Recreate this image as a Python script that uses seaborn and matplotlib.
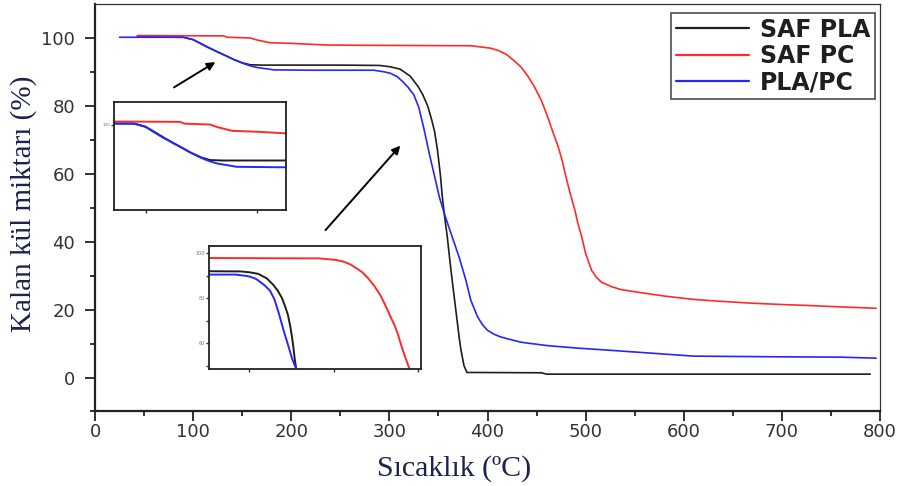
import numpy as np
import pandas as pd
import matplotlib
matplotlib.use("Agg")
import matplotlib.pyplot as plt
import seaborn as sns

# ---------------- data ----------------
series_names = ["SAF PLA", "SAF PC", "PLA/PC"]
series_colors = ["#1e1e1e", "#ff2a2a", "#2626ff"]

pla_T = [43, 90, 100, 107, 115, 124, 133, 141, 150, 158, 170, 200, 250, 290, 301,
         311, 321, 329, 334, 339, 343, 346, 349, 352, 354, 356, 359, 362, 364, 367,
         369, 371, 373, 376, 379, 455, 460, 790]
pla_W = [100.3, 100.2, 99.5, 98.5, 97.3, 96.0, 94.8, 93.7, 92.7, 92.1, 92.0, 92.0, 92.0,
         91.9, 91.5, 90.8, 88.8, 85.8, 83.3, 80.0, 76.0, 72.5, 67.0, 59.5, 53.0, 48.0,
         41.4, 33.5, 28.6, 21.5, 16.8, 12.0, 8.0, 3.5, 1.5, 1.4, 1.0, 1.0]

pc_T = [43, 131, 135, 158, 165, 178, 200, 237, 300, 383, 403, 412, 420, 427, 434, 441,
        448, 455, 461, 467, 472, 476, 480, 484, 489, 492, 496, 500, 506, 511, 516, 526,
        536, 556, 580, 610, 640, 669, 700, 728, 760, 796]
pc_W = [100.7, 100.6, 100.2, 100.0, 99.4, 98.6, 98.4, 97.9, 97.8, 97.7, 97.0, 96.2, 95.0,
        93.3, 91.5, 88.8, 85.5, 81.5, 77.0, 72.0, 68.0, 64.0, 59.0, 54.5, 49.3, 45.5,
        41.4, 36.5, 31.6, 29.5, 28.1, 26.8, 25.9, 25.0, 24.0, 23.0, 22.4, 21.9, 21.5,
        21.2, 20.8, 20.4]

blend_T = [25, 90, 100, 107, 115, 124, 133, 141, 150, 158, 165, 175, 182, 220, 284, 295,
           301, 308, 313, 319, 325, 330, 335, 341, 347, 351, 356, 360, 364, 371, 378, 383,
           390, 395, 400, 407, 414, 434, 461, 490, 516, 551, 610, 700, 760, 796]
blend_W = [100.2, 100.2, 99.5, 98.4, 97.2, 96.0, 94.8, 93.7, 92.6, 91.8, 91.3, 90.9, 90.6,
           90.5, 90.5, 90.0, 89.6, 88.6, 87.3, 85.5, 83.2, 79.5, 73.5, 65.5, 58.1, 53.0,
           48.3, 44.8, 41.4, 35.5, 28.6, 22.7, 17.8, 15.5, 13.9, 12.7, 11.9, 10.4, 9.4,
           8.7, 8.2, 7.5, 6.3, 6.1, 6.0, 5.7]

x_ticks = [0, 100, 200, 300, 400, 500, 600, 700, 800]
y_ticks = [0, 20, 40, 60, 80, 100]
y_tick_labels = ["0", "20", "40", "60", "80", "100"]

x_label = "Sıcaklık (ºC)"
y_label = "Kalan kül miktarı (%)"

df = pd.concat([
    pd.DataFrame({"T": pla_T, "W": pla_W, "Seri": series_names[0]}),
    pd.DataFrame({"T": pc_T, "W": pc_W, "Seri": series_names[1]}),
    pd.DataFrame({"T": blend_T, "W": blend_W, "Seri": series_names[2]}),
], ignore_index=True)
palette = dict(zip(series_names, series_colors))

# ---------------- style ----------------
sns.set_style("white")
plt.rcParams["font.family"] = ["DejaVu Sans"]

fig = plt.figure(figsize=(9.05, 4.86), dpi=100)
ax = fig.add_axes([0.105, 0.1533, 0.8674, 0.8385])

sns.lineplot(data=df, x="T", y="W", hue="Seri", hue_order=series_names, palette=palette,
             estimator=None, sort=False, linewidth=1.2, ax=ax)

ax.set_xlim(0, 800)
ax.set_ylim(-10, 110)
ax.set_xticks(x_ticks)
ax.set_xticks(np.arange(50, 800, 100), minor=True)
ax.set_yticks(y_ticks)
ax.set_yticklabels(y_tick_labels)
ax.set_yticks(np.arange(-10, 110, 20), minor=True)
ax.tick_params(which="major", direction="out", length=7.2, width=1.3, color="#222222",
               labelsize=13, labelcolor="#333333")
ax.tick_params(which="minor", direction="out", length=3.6, width=1.3, color="#222222")
ax.tick_params(axis="x", which="major", pad=1)
ax.tick_params(axis="y", which="major", pad=7)
ax.tick_params(bottom=True, left=True, which="both")

for side in ["left", "bottom"]:
    ax.spines[side].set_linewidth(1.6)
    ax.spines[side].set_color("#222222")
for side in ["top", "right"]:
    ax.spines[side].set_linewidth(0.9)
    ax.spines[side].set_color("#333333")

ax.set_xlabel(x_label, family=["Liberation Serif", "DejaVu Serif"], size=21.5,
              color="#1c2250")
ax.set_ylabel(y_label, family=["Liberation Serif", "DejaVu Serif"], size=21,
              color="#1c2250")
ax.xaxis.set_label_coords(0.457, -0.108)
ax.yaxis.set_label_coords(-0.074, 0.509)

handles, labels = ax.get_legend_handles_labels()
leg = ax.legend(handles, labels, loc="upper right", bbox_to_anchor=(0.9936, 0.978),
                borderaxespad=0, frameon=True, fancybox=False, edgecolor="#333333",
                prop={"family": "DejaVu Sans", "size": 17, "weight": "bold"},
                handlelength=3.1, handletextpad=0.45, labelspacing=0.1, borderpad=0.2)
leg.get_frame().set_linewidth(1.3)
for t in leg.get_texts():
    t.set_color("#1f1f1f")
for h in leg.get_lines():
    h.set_linewidth(1.6)

# arrows pointing to the zoomed regions
arrow_kw = dict(arrowstyle="-|>", color="black", lw=1.4, mutation_scale=12)
ax.annotate("", xy=(125, 93.3), xytext=(78, 85.0), arrowprops=arrow_kw)
ax.annotate("", xy=(313, 68.9), xytext=(233, 42.8), arrowprops=arrow_kw)

# ---------------- inset 1 : first mass loss ----------------
ins1 = fig.add_axes([0.1265, 0.568, 0.189, 0.222])
sns.lineplot(data=df, x="T", y="W", hue="Seri", hue_order=series_names, palette=palette,
             estimator=None, sort=False, linewidth=1.4, ax=ins1, legend=False)
ins1.set_xlim(72, 226)
ins1.set_ylim(81, 105)
ins1.set_xticks([100, 200])
ins1.set_xticklabels([])
ins1.set_yticks([100])
ins1.set_yticklabels(["100"], fontsize=3, color="#777777")
ins1.tick_params(direction="out", length=2.5, width=1.0, color="#333333", pad=0.5)
ins1.tick_params(bottom=True, left=True)
ins1.set_xlabel("")
ins1.set_ylabel("")
for s in ins1.spines.values():
    s.set_linewidth(1.3)
    s.set_color("#222222")

# ---------------- inset 2 : main decomposition onset ----------------
ins2 = fig.add_axes([0.2313, 0.2401, 0.2336, 0.2537])
sns.lineplot(data=df, x="T", y="W", hue="Seri", hue_order=series_names, palette=palette,
             estimator=None, sort=False, linewidth=1.4, ax=ins2, legend=False)
ins2.set_xlim(253, 503)
ins2.set_ylim(48.4, 103.2)
ins2.set_xticks([300, 400, 500])
ins2.set_xticklabels([])
ins2.set_yticks([60, 80, 100])
ins2.set_yticklabels(["60", "80", "100"], fontsize=3.5, color="#777777")
ins2.set_yticks([50, 70, 90], minor=True)
ins2.tick_params(which="both", direction="out", length=2.5, width=1.0, color="#333333",
                 pad=1)
ins2.tick_params(bottom=True, left=True, which="both")
ins2.set_xlabel("")
ins2.set_ylabel("")
for s in ins2.spines.values():
    s.set_linewidth(1.3)
    s.set_color("#222222")

fig.savefig("out.png", dpi=100)
